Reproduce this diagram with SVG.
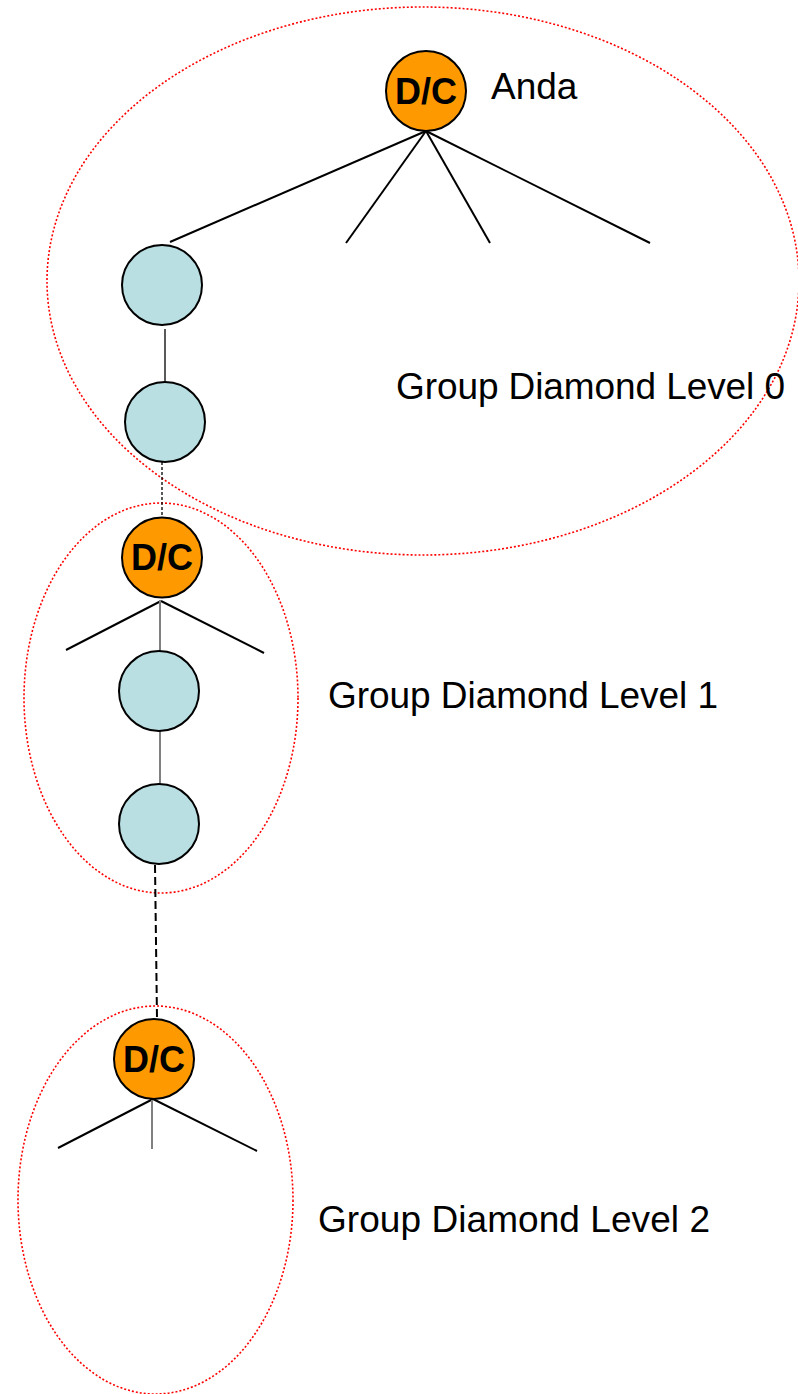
<svg xmlns="http://www.w3.org/2000/svg" width="798" height="1394" viewBox="0 0 798 1394">
<style>
.grp{fill:none;stroke:#FF0000;stroke-width:1.6;stroke-dasharray:2 2}
.dc{fill:#FF9900;stroke:#000;stroke-width:2}
.nd{fill:#B9DFE3;stroke:#000;stroke-width:2}
.dct{font-family:"Liberation Sans",Arial,sans-serif;font-weight:bold;font-size:36px;text-anchor:middle;fill:#000}
.lbl{font-family:"Liberation Sans",Arial,sans-serif;font-size:37px;fill:#000}
.ln{stroke:#000;stroke-width:2;fill:none}
.gl{stroke:#808080;stroke-width:2;fill:none}
.ds1{stroke:#000;stroke-width:1.3;stroke-dasharray:3 2;fill:none}
.ds2{stroke:#000;stroke-width:2;stroke-dasharray:8 4;fill:none}
</style>
<rect width="798" height="1394" fill="#fff"/>
<g id="groups">
<ellipse id="group0" class="grp" cx="423" cy="281" rx="376" ry="274"/>
<ellipse id="group1" class="grp" cx="161" cy="698" rx="137" ry="195"/>
<ellipse id="group2" class="grp" cx="155.5" cy="1200" rx="137.5" ry="194"/>
</g>
<g id="connectors">
<line class="ln" x1="426" y1="131" x2="170" y2="242"/>
<line class="ln" x1="426" y1="131" x2="346" y2="243"/>
<line class="ln" x1="426" y1="131" x2="490" y2="243"/>
<line class="ln" x1="426" y1="131" x2="650" y2="243"/>
<line class="ln" x1="165" y1="329" x2="165" y2="381" style="stroke-width:1.3"/>
<line class="ds1" x1="162" y1="462" x2="162" y2="518"/>
<line class="ln" x1="161" y1="601" x2="66" y2="650"/>
<line class="ln" x1="161" y1="601" x2="264" y2="653"/>
<line class="gl" x1="160" y1="600" x2="160" y2="651"/>
<line class="gl" x1="160" y1="731" x2="160" y2="784"/>
<line class="ds2" x1="155" y1="865" x2="157" y2="1018"/>
<line class="ln" x1="153" y1="1099" x2="58" y2="1148"/>
<line class="ln" x1="153" y1="1099" x2="257" y2="1151"/>
<line class="gl" x1="152" y1="1100" x2="152" y2="1149"/>
</g>
<g id="dc0"><circle class="dc" cx="426" cy="91" r="40"/><text class="dct" x="426" y="104">D/C</text></g>
<g id="n1"><circle class="nd" cx="162" cy="285" r="40"/></g>
<g id="n2"><circle class="nd" cx="165" cy="422" r="40"/></g>
<g id="dc1"><circle class="dc" cx="162" cy="557.5" r="40"/><text class="dct" x="162" y="570">D/C</text></g>
<g id="n3"><circle class="nd" cx="159" cy="691" r="40"/></g>
<g id="n4"><circle class="nd" cx="159" cy="824" r="40"/></g>
<g id="dc2"><circle class="dc" cx="154" cy="1059" r="40"/><text class="dct" x="154" y="1072">D/C</text></g>
<g id="labels">
<text class="lbl" x="491" y="99">Anda</text>
<text class="lbl" x="396" y="399" textLength="389">Group Diamond Level 0</text>
<text class="lbl" x="328" y="708" textLength="390">Group Diamond Level 1</text>
<text class="lbl" x="318" y="1232" textLength="392">Group Diamond Level 2</text>
</g>
</svg>
